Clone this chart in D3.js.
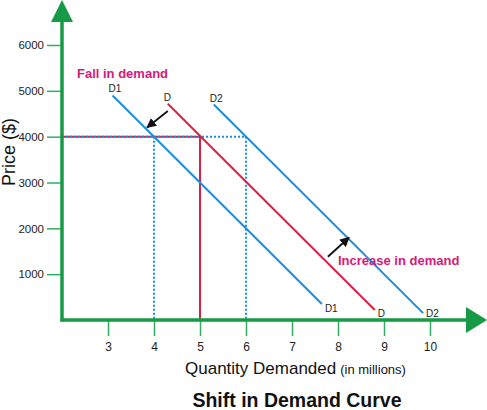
<!DOCTYPE html>
<html>
<head>
<meta charset="utf-8">
<script src="https://cdn.jsdelivr.net/npm/d3@7"></script>
<style>
  body { margin: 0; background: #fff; }
  svg { display: block; font-family: "Liberation Sans", Arial, sans-serif; }
</style>
</head>
<body>
<div id="grafico"></div>
<script>
// Datos
var xTicks = [3, 4, 5, 6, 7, 8, 9, 10];
var yTicks = [1000, 2000, 3000, 4000, 5000, 6000];
var curveNames = ["D1", "D", "D2"];
var curveStart = [[3.1, 4900], [4.3, 4720], [5.3, 4700]];
var curveEnd = [[7.65, 350], [8.8, 220], [9.85, 150]];
var curveColors = ["#1a8edb", "#dc1f44", "#1a8edb"];
var priceLevel = 4000;
var eqQuantity = [4, 5, 6];
var fallArrow = [[4.3, 4560], [3.85, 4200]];
var increaseArrow = [[7.78, 1380], [8.24, 1800]];

var W = 487, H = 410;
var verde = "#179a45", verdeTick = "#2fae63", azul = "#1a8edb", rojo = "#dc1f44", magenta = "#d5197a";

var svg = d3.select("#grafico").append("svg").attr("width", W).attr("height", H);

var x = d3.scaleLinear().domain([2, 10]).range([62, 430]);
var y = d3.scaleLinear().domain([0, 6000]).range([320, 45]);

svg.append("defs").append("marker")
    .attr("id", "flecha")
    .attr("viewBox", "0 0 10 10")
    .attr("refX", 9).attr("refY", 5)
    .attr("markerWidth", 5.5).attr("markerHeight", 5.5)
    .attr("orient", "auto")
    .append("path").attr("d", "M0,0L10,5L0,10z").attr("fill", "#111");

// ejes con ticks
var gy = svg.append("g")
    .attr("transform", "translate(" + x(2) + ",0)")
    .call(d3.axisLeft(y).tickValues(yTicks).tickSize(15).tickPadding(3).tickFormat(d3.format("d")));
var gx = svg.append("g")
    .attr("transform", "translate(0," + y(0) + ")")
    .call(d3.axisBottom(x).tickValues(xTicks).tickSize(16).tickPadding(6));

[gx, gy].forEach(function(g) {
    g.select(".domain").remove();
    g.selectAll(".tick line").attr("stroke", verdeTick).attr("stroke-width", 1.5);
    g.selectAll(".tick text").attr("fill", "#222").attr("font-size", 11.5)
        .attr("font-family", "Liberation Sans, Arial, sans-serif");
});
gx.selectAll(".tick text").attr("font-size", 12);

// lineas punteadas de equilibrio
svg.append("line")
    .attr("x1", x(2)).attr("x2", x(5))
    .attr("y1", y(priceLevel)).attr("y2", y(priceLevel))
    .attr("stroke", rojo).attr("stroke-width", 2);
svg.append("line")
    .attr("x1", x(2)).attr("x2", x(6))
    .attr("y1", y(priceLevel)).attr("y2", y(priceLevel))
    .attr("stroke", azul).attr("stroke-width", 2).attr("stroke-dasharray", "2,2");

svg.selectAll(".vert")
    .data(eqQuantity)
    .enter().append("line")
    .attr("class", "vert")
    .attr("x1", function(d) { return x(d); })
    .attr("x2", function(d) { return x(d); })
    .attr("y1", y(priceLevel)).attr("y2", y(0))
    .attr("stroke", function(d, i) { return i == 1 ? rojo : azul; })
    .attr("stroke-width", 2)
    .attr("stroke-dasharray", function(d, i) { return i == 1 ? null : "2,2"; });

// curvas de demanda
svg.selectAll(".curva")
    .data(curveNames)
    .enter().append("line")
    .attr("class", "curva")
    .attr("x1", function(d, i) { return x(curveStart[i][0]); })
    .attr("y1", function(d, i) { return y(curveStart[i][1]); })
    .attr("x2", function(d, i) { return x(curveEnd[i][0]); })
    .attr("y2", function(d, i) { return y(curveEnd[i][1]); })
    .attr("stroke", function(d, i) { return curveColors[i]; })
    .attr("stroke-width", 2);

svg.selectAll(".lblIni")
    .data(curveNames)
    .enter().append("text")
    .attr("x", function(d, i) { return x(curveStart[i][0]) - 4; })
    .attr("y", function(d, i) { return y(curveStart[i][1]) - 3; })
    .attr("font-size", 10).attr("fill", "#222")
    .text(function(d) { return d; });

svg.selectAll(".lblFin")
    .data(curveNames)
    .enter().append("text")
    .attr("x", function(d, i) { return x(curveEnd[i][0]) + 3; })
    .attr("y", function(d, i) { return Math.min(y(curveEnd[i][1]) + 8, y(0) - 3); })
    .attr("font-size", 10).attr("fill", "#222")
    .text(function(d) { return d; });

// flechas
[fallArrow, increaseArrow].forEach(function(a) {
    svg.append("line")
        .attr("x1", x(a[0][0])).attr("y1", y(a[0][1]))
        .attr("x2", x(a[1][0])).attr("y2", y(a[1][1]))
        .attr("stroke", "#111").attr("stroke-width", 1.8)
        .attr("marker-end", "url(#flecha)");
});

svg.append("text").attr("x", 77).attr("y", 78)
    .attr("font-size", 13).attr("font-weight", "bold").attr("fill", magenta)
    .text("Fall in demand");
svg.append("text").attr("x", 338).attr("y", 265)
    .attr("font-size", 13).attr("font-weight", "bold").attr("fill", magenta)
    .text("Increase in demand");

// ejes verdes con punta de flecha
svg.append("line")
    .attr("x1", x(2)).attr("x2", x(2)).attr("y1", y(0) + 1.5).attr("y2", 18)
    .attr("stroke", verde).attr("stroke-width", 3.5);
svg.append("path")
    .attr("d", "M" + (x(2) - 11) + ",22L" + x(2) + ",0L" + (x(2) + 11) + ",22z")
    .attr("fill", verde);
svg.append("line")
    .attr("x1", x(2) - 1.5).attr("x2", 470).attr("y1", y(0)).attr("y2", y(0))
    .attr("stroke", verde).attr("stroke-width", 3.5);
svg.append("path")
    .attr("d", "M466," + (y(0) - 13) + "L487," + y(0) + "L466," + (y(0) + 13) + "z")
    .attr("fill", verde);

// titulos de ejes
svg.append("text")
    .attr("transform", "translate(15,152) rotate(-90)")
    .attr("text-anchor", "middle")
    .attr("font-size", 18).attr("fill", "#111")
    .text("Price ($)");

var xl = svg.append("text").attr("x", 185).attr("y", 374).attr("fill", "#111");
xl.append("tspan").attr("font-size", 17).text("Quantity Demanded");
xl.append("tspan").attr("font-size", 13).attr("dx", 4).text("(in millions)");

svg.append("text")
    .attr("x", 297).attr("y", 407)
    .attr("text-anchor", "middle")
    .attr("font-size", 19.5).attr("font-weight", "bold").attr("fill", "#111")
    .text("Shift in Demand Curve");
</script>
</body>
</html>
